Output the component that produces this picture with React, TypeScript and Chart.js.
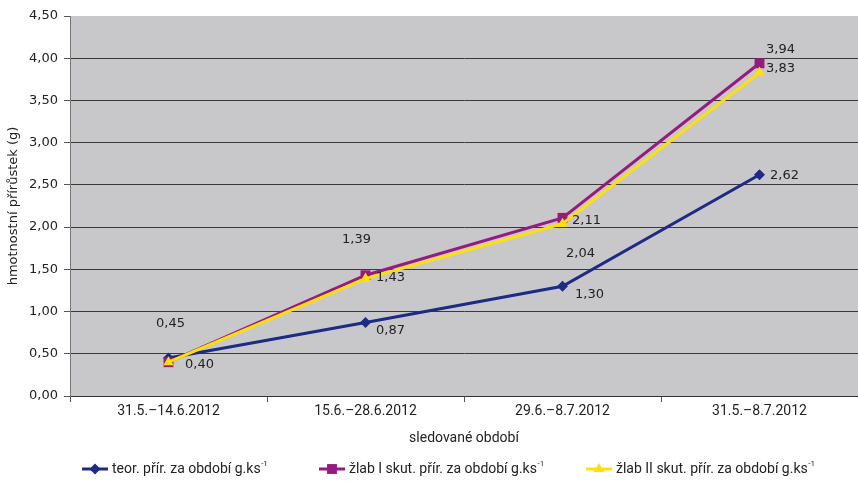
import React, { useEffect, useRef } from "react";
import { Chart, registerables } from "chart.js";

Chart.register(...registerables);

const categories = ["31.5.–14.6.2012", "15.6.–28.6.2012", "29.6.–8.7.2012", "31.5.–8.7.2012"];
const teorValues = [0.45, 0.87, 1.3, 2.62];
const zlabIValues = [0.4, 1.43, 2.11, 3.94];
const zlabIIValues = [0.4, 1.39, 2.04, 3.83];
const seriesNames = ["teor. přír. za období g.ks", "žlab I skut. přír. za období g.ks", "žlab II skut. přír. za období g.ks"];
const yTitle = "hmotnostní přírůstek (g)";
const xTitle = "sledované období";

const colors = ["#1d2a86", "#961b80", "#ffe100"];
const pointStyles = ["rectRot", "rect", "triangle"] as const;
const pointRadii = [5.5, 7, 6];

// label offsets (dx, dy) from each point, per series; null = not drawn
const labelOffsets: ([number, number] | null)[][] = [
  [[2, -34], [25, 8], [27, 8], [25, 1]],
  [null, [25, 2], [24, 3], [21, -14]],
  [[31, 2], [-9, -39], [18, 30], [21, -4]],
];

const SANS = "'DejaVu Sans', sans-serif";
const TEXT = "'Roboto', sans-serif";

const fmt = (v: number) => v.toFixed(2).replace(".", ",");

// legend marker shapes, same geometry as Chart.js point styles
function marker(ctx: CanvasRenderingContext2D, style: string, r: number, x: number, y: number) {
  ctx.beginPath();
  if (style === "rectRot") {
    ctx.moveTo(x, y - r);
    ctx.lineTo(x + r, y);
    ctx.lineTo(x, y + r);
    ctx.lineTo(x - r, y);
  } else if (style === "rect") {
    const s = r * Math.SQRT1_2;
    ctx.rect(x - s, y - s, 2 * s, 2 * s);
  } else {
    const h = r * 1.5;
    const half = r * 0.866;
    ctx.moveTo(x, y - r);
    ctx.lineTo(x + half, y - r + h);
    ctx.lineTo(x - half, y - r + h);
  }
  ctx.closePath();
  ctx.fill();
}

const plotBackground = {
  id: "plotBackground",
  beforeDraw(chart: any) {
    const { ctx, chartArea } = chart;
    ctx.save();
    ctx.fillStyle = "#c8c8ca";
    ctx.fillRect(chartArea.left, chartArea.top, chartArea.right - chartArea.left, chartArea.bottom - chartArea.top);
    ctx.restore();
  },
};

const valueLabels = {
  id: "valueLabels",
  afterDatasetsDraw(chart: any) {
    const { ctx } = chart;
    ctx.save();
    ctx.font = `13px ${SANS}`;
    ctx.fillStyle = "#222";
    ctx.textAlign = "center";
    ctx.textBaseline = "middle";
    chart.data.datasets.forEach((ds: any, di: number) => {
      const meta = chart.getDatasetMeta(di);
      meta.data.forEach((pt: any, i: number) => {
        const off = labelOffsets[di][i];
        if (!off) return;
        ctx.fillText(fmt(ds.data[i]), pt.x + off[0], pt.y + off[1]);
      });
    });
    ctx.restore();
  },
};

const extras = {
  id: "extras",
  afterDraw(chart: any) {
    const { ctx, chartArea } = chart;
    ctx.save();
    ctx.fillStyle = "#222";
    // axis titles
    ctx.font = `14px ${TEXT}`;
    ctx.textAlign = "center";
    ctx.textBaseline = "middle";
    ctx.fillText(xTitle, (chartArea.left + chartArea.right) / 2, 438);
    ctx.save();
    ctx.translate(14, (chartArea.top + chartArea.bottom) / 2);
    ctx.rotate(-Math.PI / 2);
    ctx.font = `13px ${SANS}`;
    ctx.fillText(yTitle, 0, 0);
    ctx.restore();

    // legend
    const starts = [82, 319, 586];
    const y = 469;
    seriesNames.forEach((name, i) => {
      const x0 = starts[i];
      ctx.strokeStyle = colors[i];
      ctx.lineWidth = 3;
      ctx.beginPath();
      ctx.moveTo(x0, y);
      ctx.lineTo(x0 + 26, y);
      ctx.stroke();
      ctx.fillStyle = colors[i];
      marker(ctx, pointStyles[i], pointRadii[i], x0 + 13, y);
      ctx.fillStyle = "#222";
      ctx.textAlign = "left";
      ctx.font = `14px ${TEXT}`;
      const tx = x0 + 30;
      ctx.fillText(name, tx, y);
      const w = ctx.measureText(name).width;
      ctx.font = `8px ${TEXT}`;
      ctx.fillText("-1", tx + w + 0.5, y - 5);
    });
    ctx.restore();
  },
};

export default function App() {
  const ref = useRef<HTMLCanvasElement>(null);
  useEffect(() => {
    document.body.style.margin = "0";
    const seriesData = [teorValues, zlabIValues, zlabIIValues];
    const chart = new Chart(ref.current!, {
      type: "line",
      data: {
        labels: categories,
        datasets: seriesData.map((d, i) => ({
          label: seriesNames[i],
          data: d,
          borderColor: colors[i],
          backgroundColor: colors[i],
          borderWidth: 3,
          pointStyle: pointStyles[i],
          pointRadius: pointRadii[i],
          pointBorderWidth: 0,
          tension: 0,
          order: 2 - i,
        })),
      },
      options: {
        responsive: false,
        animation: false,
        layout: { autoPadding: false, padding: { top: 16, right: 0, bottom: 0, left: 0 } },
        plugins: { legend: { display: false }, tooltip: { enabled: false } },
        scales: {
          x: {
            offset: true,
            grid: { offset: true, drawOnChartArea: false, tickLength: 6, tickColor: "#555" },
            border: { color: "#333", width: 1 },
            ticks: { color: "#222", font: { family: TEXT, size: 14 }, padding: 1, maxRotation: 0 },
            afterFit: (s: any) => {
              s.height = 88;
              s.paddingLeft = 0;
              s.paddingRight = 0;
            },
          },
          y: {
            min: 0,
            max: 4.5,
            ticks: { stepSize: 0.5, color: "#222", font: { family: SANS, size: 13 }, padding: 6, callback: (v: any) => fmt(Number(v)) },
            grid: {
              color: (c: any) => (c.tick && c.tick.value >= 4.5 ? "rgba(0,0,0,0)" : "#3a3a3a"),
              tickColor: "#555",
              tickLength: 6,
            },
            border: { color: "#777", width: 1 },
            afterFit: (s: any) => { s.width = 70; },
          },
        },
      },
      plugins: [plotBackground, valueLabels, extras],
    });
    return () => chart.destroy();
  }, []);
  return (
    <div style={{ width: 858, height: 484, overflow: "hidden", background: "#fff" }}>
      <canvas ref={ref} width={858} height={484} />
    </div>
  );
}
